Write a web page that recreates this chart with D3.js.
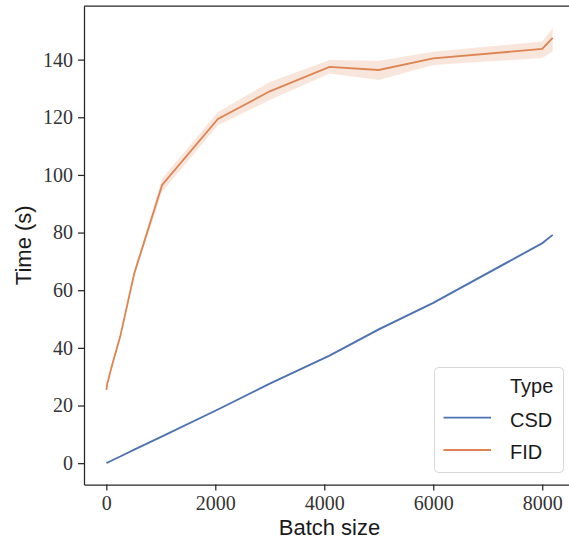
<!DOCTYPE html>
<html>
<head>
<meta charset="utf-8">
<script src="https://cdn.jsdelivr.net/npm/d3@7"></script>
<style>
  body { margin: 0; background: #fff; }
  svg { display: block; }
</style>
</head>
<body>
<div id="chart"></div>
<script>
// batch sizes and timings
var batchSizes = [1, 16, 32, 64, 128, 256, 512, 1024, 2048, 3000, 4096, 5000, 6000, 8000, 8192];
var csdTime  = [0.1, 0.2, 0.3, 0.6, 1.2, 2.3, 4.7, 9.3, 18.6, 27.6, 37.3, 46.4, 55.6, 76.3, 79.2];
var csdLow   = [0.1, 0.2, 0.3, 0.6, 1.2, 2.3, 4.6, 9.2, 18.4, 27.4, 37.0, 45.9, 55.3, 75.8, 79.0];
var csdHigh  = [0.1, 0.2, 0.3, 0.6, 1.2, 2.3, 4.8, 9.4, 18.8, 27.8, 37.6, 46.9, 55.9, 76.8, 79.4];
var fidTime  = [25.4, 27.6, 28.5, 31.0, 35.5, 44.0, 65.8, 96.5, 119.4, 129.0, 137.5, 136.4, 140.4, 143.7, 147.5];
var fidLow   = [25.2, 27.3, 28.1, 30.5, 34.8, 43.2, 64.8, 94.2, 117.2, 126.0, 135.2, 132.9, 138.1, 140.6, 142.8];
var fidHigh  = [25.6, 27.9, 28.9, 31.5, 36.2, 44.8, 66.8, 98.8, 121.8, 132.2, 139.9, 139.6, 142.7, 146.3, 151.0];
var seriesNames = ["CSD", "FID"];
var seriesColors = ["#4c72b0", "#dd8452"];
var xTicks = [0, 2000, 4000, 6000, 8000];
var yTicks = [0, 20, 40, 60, 80, 100, 120, 140];

var width = 569;
var height = 544;
var margin = { top: 6, right: -6, bottom: 59.5, left: 84 };

var svg = d3.select("#chart")
    .append("svg")
    .attr("width", width)
    .attr("height", height)

var x = d3.scaleLinear()
    .domain([-409.6, 8601.6])
    .range([margin.left, width - margin.right])

var y = d3.scaleLinear()
    .domain([-7.4, 158.6])
    .range([height - margin.bottom, margin.top])

var series = [
    { name: seriesNames[0], color: seriesColors[0], mid: csdTime, lo: csdLow, hi: csdHigh },
    { name: seriesNames[1], color: seriesColors[1], mid: fidTime, lo: fidLow, hi: fidHigh }
]

var area = d3.area()
    .x(function (d) { return x(d.b) })
    .y0(function (d) { return y(d.lo) })
    .y1(function (d) { return y(d.hi) })

var line = d3.line()
    .x(function (d) { return x(d.b) })
    .y(function (d) { return y(d.v) })

series.forEach(function (s) {
    var pts = batchSizes.map(function (b, i) {
        return { b: b, v: s.mid[i], lo: s.lo[i], hi: s.hi[i] }
    })
    svg.append("path")
        .datum(pts)
        .attr("d", area)
        .attr("fill", s.color)
        .attr("fill-opacity", 0.2)
    svg.append("path")
        .datum(pts)
        .attr("d", line)
        .attr("fill", "none")
        .attr("stroke", s.color)
        .attr("stroke-width", 1.8)
})

/*
    axes: left and bottom with ticks, top as a bare spine
    (the right spine falls outside the picture)
*/
var tickFont = "'Liberation Serif', 'Times New Roman', serif";
var spine = "#262626";

var xAxis = svg.append("g")
    .attr("transform", "translate(0," + (height - margin.bottom) + ")")
    .call(d3.axisBottom(x).tickValues(xTicks).tickFormat(d3.format("d")).tickSize(6).tickSizeOuter(0).tickPadding(5))

var yAxis = svg.append("g")
    .attr("transform", "translate(" + margin.left + ",0)")
    .call(d3.axisLeft(y).tickValues(yTicks).tickSize(6).tickSizeOuter(0).tickPadding(5))

;[xAxis, yAxis].forEach(function (g) {
    g.select(".domain").attr("stroke", spine).attr("stroke-width", 1.25)
    g.selectAll(".tick line").attr("stroke", spine).attr("stroke-width", 1.25)
    g.selectAll(".tick text")
        .attr("fill", "#333")
        .style("font-family", tickFont)
        .style("font-size", "20px")
})

svg.append("line")
    .attr("x1", margin.left).attr("x2", width - margin.right)
    .attr("y1", margin.top).attr("y2", margin.top)
    .attr("stroke", spine).attr("stroke-width", 1.25)

var labelFont = "'Liberation Sans', Arial, sans-serif";

svg.append("text")
    .attr("x", (margin.left + width - margin.right) / 2)
    .attr("y", 535)
    .attr("text-anchor", "middle")
    .attr("fill", "#1a1a1a")
    .style("font-family", labelFont)
    .style("font-size", "22px")
    .text("Batch size")

svg.append("text")
    .attr("transform", "translate(31," + ((margin.top + height - margin.bottom) / 2) + ") rotate(-90)")
    .attr("text-anchor", "middle")
    .attr("fill", "#1a1a1a")
    .style("font-family", labelFont)
    .style("font-size", "22px")
    .text("Time (s)")

/*
    legend box in the lower right corner
*/
var legend = svg.append("g")

legend.append("rect")
    .attr("x", 434.5).attr("y", 367.5)
    .attr("width", 129).attr("height", 105)
    .attr("rx", 4)
    .attr("fill", "#fff").attr("fill-opacity", 0.8)
    .attr("stroke", "#d6d6d6").attr("stroke-width", 1)

legend.append("text")
    .attr("x", 510).attr("y", 393)
    .attr("fill", "#1a1a1a")
    .style("font-family", labelFont)
    .style("font-size", "20px")
    .text("Type")

series.forEach(function (s, i) {
    var cy = 417.7 + i * 32.3
    legend.append("line")
        .attr("x1", 443.5).attr("x2", 491)
        .attr("y1", cy).attr("y2", cy)
        .attr("stroke", s.color).attr("stroke-width", 1.8)
    legend.append("text")
        .attr("x", 510).attr("y", cy + 9)
        .attr("fill", "#1a1a1a")
        .style("font-family", labelFont)
        .style("font-size", "20px")
        .text(s.name)
})
</script>
</body>
</html>
